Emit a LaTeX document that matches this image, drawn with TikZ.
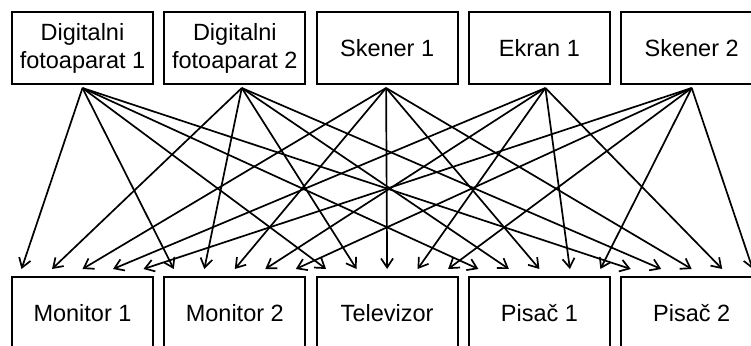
\documentclass[tikz,border=0pt]{standalone}
\usepackage{fontspec}
\setmainfont{Liberation Sans}
\usetikzlibrary{positioning,arrows.meta}
\tikzset{
  uredaj/.style={draw, line width=2pt, minimum width=141pt, minimum height=72pt, inner sep=0pt, outer sep=0pt, align=center, font=\fontsize{23.5}{28}\selectfont},
  veza/.style={-{Straight Barb[length=9pt,width=12pt]}, line width=1.7pt}
}
\begin{document}
\begin{tikzpicture}[node distance=11.3pt]
\useasboundingbox (0,0) rectangle (751pt,-345pt);
\node[uredaj] (f1) at (82.5pt,-48pt) {Digitalni\\fotoaparat 1};
\node[uredaj,right=of f1] (f2) {Digitalni\\fotoaparat 2};
\node[uredaj,right=of f2] (sk1) {Skener 1};
\node[uredaj,right=of sk1] (ek1) {Ekran 1};
\node[uredaj,right=of ek1] (sk2) {Skener 2};
\node[uredaj,below=193pt of f1] (m1) {Monitor 1};
\node[uredaj,right=of m1] (m2) {Monitor 2};
\node[uredaj,right=of m2] (tv) {Televizor};
\node[uredaj,right=of tv] (p1) {Pisač 1};
\node[uredaj,right=of p1] (p2) {Pisač 2};
\foreach \s/\dx [count=\i] in {f1/0,f2/7,sk1/-1,ek1/6,sk2/0}
  \foreach \t in {m1,m2,tv,p1,p2}
    \draw[veza] ([xshift=\dx pt,yshift=-4pt]\s.south) -- ([xshift={(\i-3)*30.5pt},yshift=8pt]\t.north);
\end{tikzpicture}
\end{document}
